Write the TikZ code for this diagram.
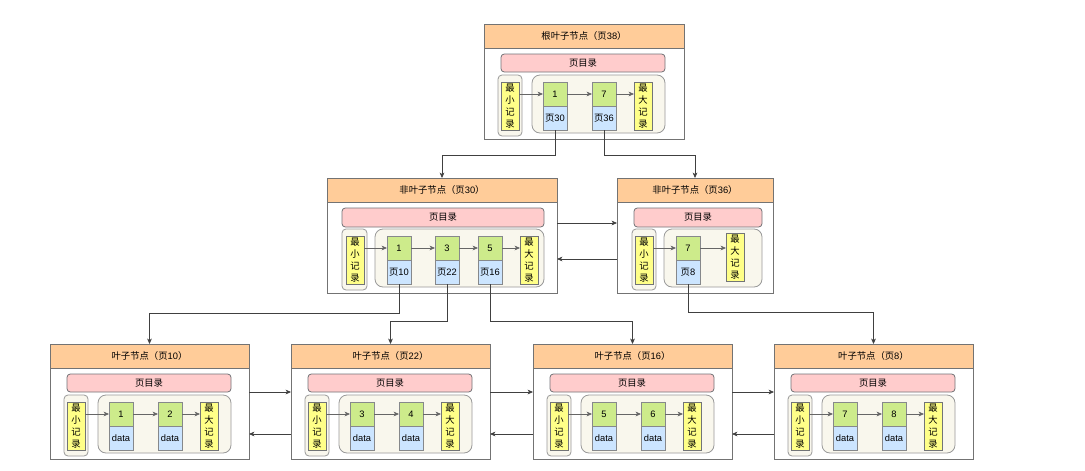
\documentclass[tikz,border=0pt]{standalone}
\usepackage{fontspec}
\setmainfont{Liberation Sans}
\newfontfamily\cjk{Noto Sans CJK SC}
\newcommand\zh[1]{{\cjk #1}}
\usetikzlibrary{arrows.meta,calc}
\definecolor{headorange}{HTML}{FFCC99}
\definecolor{pinkfill}{HTML}{FFCCCC}
\definecolor{yellowfill}{HTML}{FFFF88}
\definecolor{greenfill}{HTML}{CDEB8B}
\definecolor{bluefill}{HTML}{CCE5FF}
\definecolor{beige}{HTML}{F9F7ED}
\definecolor{edge}{HTML}{36393D}
\tikzset{
  sz/.style 2 args={minimum width={(#1)*0.75pt}, minimum height={(#2)*0.75pt}},
  base/.style={inner sep=0pt, outer sep=0pt, anchor=north west, line width=0.6pt, font=\fontsize{7}{9}\selectfont},
  pagebox/.style={base, draw=black!55, fill=white},
  headbox/.style={base, draw=black!55, fill=headorange},
  dirbox/.style={base, draw=edge!70, fill=pinkfill, rounded corners=2.5pt},
  minbox/.style={base, draw=black!40, fill=beige, rounded corners=3pt},
  groupbox/.style={base, draw=black!40, fill=beige, rounded corners=6pt},
  yellowbox/.style={base, draw=edge!70, fill=yellowfill, align=center, sz={18}{48}, font=\cjk\fontsize{7}{9}\selectfont},
  keycell/.style={base, draw=edge!60, fill=greenfill, sz={24}{24}},
  ptrcell/.style={base, draw=edge!60, fill=bluefill, sz={24}{24}},
  link/.style={draw=black!60, line width=0.6pt, -{Stealth[length=4pt,width=3.5pt,inset=1pt]}},
  conn/.style={draw=black!75, line width=0.6pt, -{Stealth[length=4pt,width=3.5pt,inset=1pt]}},
}
% two-record page: name, L, T, W, title, keyA, keyB, ptrA, ptrB
\newcommand\twopage[9]{%
  \node[pagebox, sz={#4}{115}] (#1) at (#2,#3) {};
  \node[headbox, sz={#4}{24}] (#1h) at (#2,#3) {#5};
  \node[dirbox, sz={164}{18}] (#1d) at (#2+17,#3+30) {\zh{页目录}};
  \node[minbox, sz={24}{61}] (#1m) at (#2+14,#3+51) {};
  \node[yellowbox] (#1my) at (#2+17,#3+58) {最\\小\\记\\录};
  \node[groupbox, sz={133}{58}] (#1g) at (#2+48,#3+51) {};
  \node[keycell] (#1a) at (#2+59,#3+58) {#6};
  \node[ptrcell] (#1ap) at (#2+59,#3+82) {#8};
  \node[keycell] (#1b) at (#2+108,#3+58) {#7};
  \node[ptrcell] (#1bp) at (#2+108,#3+82) {#9};
  \node[yellowbox] (#1x) at (#2+150,#3+58) {最\\大\\记\\录};
  \draw[link] (#1my.east |- #1a.west) -- (#1a.west);
  \draw[link] (#1a.east) -- (#1b.west);
  \draw[link] (#1b.east) -- (#1x.west |- #1b.east);
}
\begin{document}
\begin{tikzpicture}[x=0.75pt,y=-0.75pt]
\useasboundingbox (0,0) rectangle (1085,471);
\fill[white] (0,0) rectangle (1085,471);

% root
\twopage{r}{484}{24}{200}{\zh{根叶子节点（页}38\zh{）}}{1}{7}{\zh{页}30}{\zh{页}36}

% non-leaf page 30
\node[pagebox, sz={230}{115}] (p) at (327,178) {};
\node[headbox, sz={230}{24}] (ph) at (327,178) {\zh{非叶子节点（页}30\zh{）}};
\node[dirbox, sz={202}{19}] (pd) at (342,208) {\zh{页目录}};
\node[minbox, sz={25}{61}] (pm) at (342,229) {};
\node[yellowbox] (pmy) at (346,236) {最\\小\\记\\录};
\node[groupbox, sz={169}{58}] (pg) at (375,229) {};
\node[keycell] (pa) at (387,236) {1};
\node[ptrcell] (pap) at (387,260) {\zh{页}10};
\node[keycell] (pb) at (435,236) {3};
\node[ptrcell] (pbp) at (435,260) {\zh{页}22};
\node[keycell] (pc) at (478,236) {5};
\node[ptrcell] (pcp) at (478,260) {\zh{页}16};
\node[yellowbox] (px) at (520,236) {最\\大\\记\\录};
\draw[link] (pmy.east |- pa.west) -- (pa.west);
\draw[link] (pa.east) -- (pb.west);
\draw[link] (pb.east) -- (pc.west);
\draw[link] (pc.east) -- (px.west |- pc.east);

% non-leaf page 36
\node[pagebox, sz={156}{115}] (q) at (617,178) {};
\node[headbox, sz={156}{24}] (qh) at (617,178) {\zh{非叶子节点（页}36\zh{）}};
\node[dirbox, sz={128}{19}] (qd) at (634,208) {\zh{页目录}};
\node[minbox, sz={24}{61}] (qm) at (632,229) {};
\node[yellowbox] (qmy) at (635,236) {最\\小\\记\\录};
\node[groupbox, sz={98}{58}] (qg) at (664,229) {};
\node[keycell] (qa) at (676,236) {7};
\node[ptrcell] (qap) at (676,260) {\zh{页}8};
\node[yellowbox] (qx) at (726,233) {最\\大\\记\\录};
\draw[link] (qmy.east |- qa.west) -- (qa.west);
\draw[link] (qa.east) -- (qx.west |- qa.east);

% leaves
\twopage{la}{50}{344}{199}{\zh{叶子节点（页}10\zh{）}}{1}{2}{data}{data}
\twopage{lb}{291}{344}{199}{\zh{叶子节点（页}22\zh{）}}{3}{4}{data}{data}
\twopage{lc}{533}{344}{199}{\zh{叶子节点（页}16\zh{）}}{5}{6}{data}{data}
\twopage{ld}{774}{344}{199}{\zh{叶子节点（页}8\zh{）}}{7}{8}{data}{data}

% tree connectors
\draw[conn] (rap.south) -- ++(0,25) -| (ph.north);
\draw[conn] (rbp.south) -- ++(0,25) -| (qh.north);
\draw[conn] (pap.south) -- ++(0,29) -| (lah.north);
\draw[conn] (pbp.south) -- ++(0,37) -| (lbh.north);
\draw[conn] (pcp.south) -- ++(0,37) -| (lch.north);
\draw[conn] (qap.south) -- ++(0,28) -| (ldh.north);

% sibling links
\draw[conn] ($(p.north east)+(0,45)$) -- ($(q.north west)+(0,45)$);
\draw[conn] ($(q.north west)+(0,81)$) -- ($(p.north east)+(0,81)$);
\draw[conn] ($(la.north east)+(0,48)$) -- ($(lb.north west)+(0,48)$);
\draw[conn] ($(lb.north west)+(0,90)$) -- ($(la.north east)+(0,90)$);
\draw[conn] ($(lb.north east)+(0,48)$) -- ($(lc.north west)+(0,48)$);
\draw[conn] ($(lc.north west)+(0,90)$) -- ($(lb.north east)+(0,90)$);
\draw[conn] ($(lc.north east)+(0,48)$) -- ($(ld.north west)+(0,48)$);
\draw[conn] ($(ld.north west)+(0,90)$) -- ($(lc.north east)+(0,90)$);
\end{tikzpicture}
\end{document}
